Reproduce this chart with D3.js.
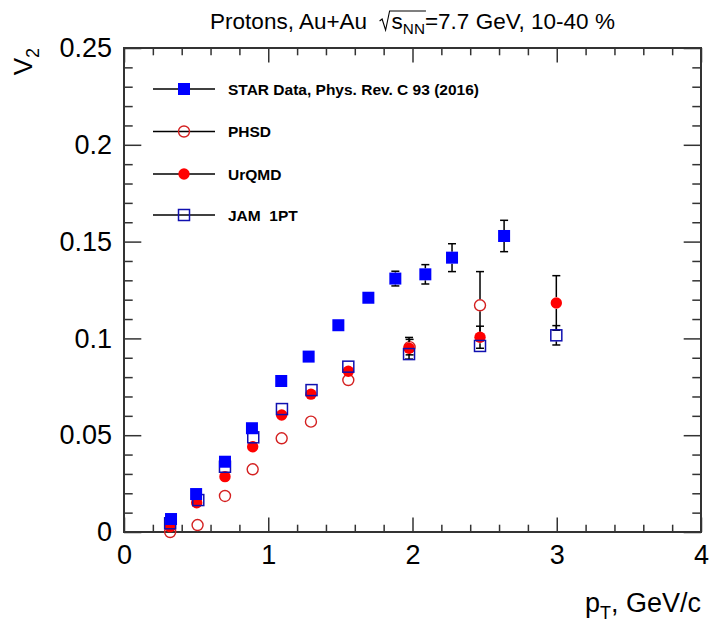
<!DOCTYPE html>
<html>
<head>
<meta charset="utf-8">
<script src="https://cdn.jsdelivr.net/npm/d3@7"></script>
<style>
  html, body { margin: 0; padding: 0; background: #fff; }
  svg { display: block; font-family: "Liberation Sans", Arial, Helvetica, sans-serif; }
  svg text { white-space: pre; }
</style>
</head>
<body>
<svg id="chart" width="712" height="628"></svg>
<script>
// ---- data: proton v2 vs pT, Au+Au 7.7 GeV, 10-40% ----
const starPt   = [0.326, 0.50, 0.70, 0.887, 1.09, 1.28, 1.486, 1.694, 1.881, 2.089, 2.274, 2.635];
const starV2   = [0.0067, 0.0196, 0.0363, 0.0536, 0.078, 0.0906, 0.1068, 0.121, 0.1309, 0.1331, 0.1417, 0.1529];
const starErr  = [0.001, 0.001, 0.001, 0.0015, 0.0015, 0.002, 0.002, 0.0025, 0.0038, 0.005, 0.0072, 0.0081];

const phsdPt   = [0.32, 0.51, 0.70, 0.892, 1.093, 1.296, 1.555, 1.98, 2.468];
const phsdV2   = [0.0, 0.0036, 0.0186, 0.0324, 0.0484, 0.057, 0.0785, 0.0955, 0.1171];
const phsdErr  = [0.0005, 0.0005, 0.0005, 0.0005, 0.0008, 0.001, 0.0015, 0.004, 0.0174];

const urqmdPt  = [0.32, 0.504, 0.70, 0.892, 1.093, 1.296, 1.555, 1.976, 2.468, 2.997];
const urqmdV2  = [0.0027, 0.0151, 0.0286, 0.044, 0.0604, 0.0712, 0.083, 0.0949, 0.1006, 0.1183];
const urqmdErr = [0.0005, 0.0005, 0.0008, 0.001, 0.001, 0.0012, 0.0015, 0.0056, 0.0057, 0.0141];

const jamPt    = [0.32, 0.515, 0.70, 0.896, 1.095, 1.30, 1.555, 1.976, 2.468, 2.997];
const jamV2    = [0.0045, 0.0165, 0.0337, 0.0489, 0.0635, 0.0733, 0.0854, 0.0919, 0.0961, 0.1016];
const jamErr   = [0.0005, 0.0005, 0.0008, 0.001, 0.001, 0.0012, 0.0015, 0.002, 0.002, 0.005];

const xTicks = [0, 1, 2, 3, 4];
const yTicks = [0, 0.05, 0.1, 0.15, 0.2, 0.25];
const yTickLabels = ["0", "0.05", "0.1", "0.15", "0.2", "0.25"];

const legendLabels = ["STAR Data, Phys. Rev. C 93 (2016)", "PHSD", "UrQMD", "JAM  1PT"];

// ---- layout ----
const W = 712, H = 628;
const margin = { left: 124, right: 11, top: 48, bottom: 96 };
const plotW = W - margin.left - margin.right;
const plotH = H - margin.top - margin.bottom;

const svg = d3.select("#chart");
const g = svg.append("g").attr("transform", `translate(${margin.left},${margin.top})`);

const x = d3.scaleLinear().domain([0, 4]).range([0, plotW]);
const y = d3.scaleLinear().domain([0, 0.25]).range([plotH, 0]);

const axisColor = "#333";
const majX = 14.5, minX = 7.3, majY = 17.3, minY = 8.7;
const xMinor = d3.range(0, 4.0001, 0.2).map(v => +v.toFixed(2)).filter(v => !xTicks.includes(v));
const yMinor = d3.range(0, 0.25001, 0.01).map(v => +v.toFixed(3)).filter(v => !yTicks.some(t => Math.abs(t - v) < 1e-9));

function styleAxis(sel) {
  sel.select(".domain").remove();
  sel.selectAll("line").attr("stroke", axisColor).attr("stroke-width", 1.5);
}

// bottom axis (ticks inward, with labels)
g.append("g").attr("transform", `translate(0,${plotH})`)
  .call(d3.axisBottom(x).tickValues(xTicks).tickSize(-majX).tickPadding(13).tickFormat(d3.format("d")))
  .call(styleAxis)
  .call(s => s.selectAll("text").attr("font-size", 27).attr("fill", "#000"));
g.append("g").attr("transform", `translate(0,${plotH})`)
  .call(d3.axisBottom(x).tickValues(xMinor).tickSize(-minX).tickFormat(""))
  .call(styleAxis);
// top axis mirror
g.append("g")
  .call(d3.axisTop(x).tickValues(xTicks).tickSize(-majX).tickFormat(""))
  .call(styleAxis);
g.append("g")
  .call(d3.axisTop(x).tickValues(xMinor).tickSize(-minX).tickFormat(""))
  .call(styleAxis);
// left axis with labels
g.append("g")
  .call(d3.axisLeft(y).tickValues(yTicks).tickSize(-majY).tickPadding(12)
    .tickFormat((d, i) => yTickLabels[i]))
  .call(styleAxis)
  .call(s => s.selectAll("text").attr("font-size", 27).attr("fill", "#000"));
g.append("g")
  .call(d3.axisLeft(y).tickValues(yMinor).tickSize(-minY).tickFormat(""))
  .call(styleAxis);
// right axis mirror
g.append("g").attr("transform", `translate(${plotW},0)`)
  .call(d3.axisRight(y).tickValues(yTicks).tickSize(-majY).tickFormat(""))
  .call(styleAxis);
g.append("g").attr("transform", `translate(${plotW},0)`)
  .call(d3.axisRight(y).tickValues(yMinor).tickSize(-minY).tickFormat(""))
  .call(styleAxis);

// frame
g.append("rect").attr("x", 0).attr("y", 0).attr("width", plotW).attr("height", plotH)
  .attr("fill", "none").attr("stroke", axisColor).attr("stroke-width", 2);

// ---- markers ----
const R = 6;
function drawMarker(sel, type) {
  if (type === "sqFill") {
    sel.append("rect").attr("x", -R).attr("y", -R).attr("width", 2 * R).attr("height", 2 * R)
      .attr("fill", "#0000ff");
  } else if (type === "sqOpen") {
    sel.append("rect").attr("x", -R + 0.5).attr("y", -R + 0.5).attr("width", 2 * R - 1).attr("height", 2 * R - 1)
      .attr("fill", "none").attr("stroke", "#1010b0").attr("stroke-width", 1.5);
  } else if (type === "cirOpen") {
    sel.append("circle").attr("r", R - 0.5).attr("fill", "none")
      .attr("stroke", "#d42020").attr("stroke-width", 1.4);
  } else if (type === "cirFill") {
    sel.append("circle").attr("r", R - 0.3).attr("fill", "#ff0000");
  }
}

function drawSeries(pts, vals, errs, type) {
  const grp = g.append("g");
  pts.forEach((p, i) => {
    const cx = x(p), cy = y(vals[i]);
    const hi = y(vals[i] + errs[i]), lo = y(vals[i] - errs[i]);
    const eg = grp.append("g").attr("stroke", "#000").attr("stroke-width", 1.5);
    // error bar segments outside the marker, with caps
    [[cy - R, hi], [cy + R, lo]].forEach(([from, to]) => {
      if (Math.abs(to - cy) > R) {
        eg.append("line").attr("x1", cx).attr("x2", cx).attr("y1", from).attr("y2", to);
        eg.append("line").attr("x1", cx - 4).attr("x2", cx + 4).attr("y1", to).attr("y2", to);
      }
    });
    drawMarker(grp.append("g").attr("transform", `translate(${cx},${cy})`), type);
  });
}

drawSeries(phsdPt, phsdV2, phsdErr, "cirOpen");
drawSeries(urqmdPt, urqmdV2, urqmdErr, "cirFill");
drawSeries(jamPt, jamV2, jamErr, "sqOpen");
drawSeries(starPt, starV2, starErr, "sqFill");

// ---- legend ----
const legendTypes = ["sqFill", "cirOpen", "cirFill", "sqOpen"];
const legendY = [89, 131.5, 174, 215];
legendLabels.forEach((lab, i) => {
  const ly = legendY[i];
  svg.append("line").attr("x1", 153).attr("x2", 215).attr("y1", ly).attr("y2", ly)
    .attr("stroke", "#000").attr("stroke-width", 1.5);
  drawMarker(svg.append("g").attr("transform", `translate(184,${ly})`), legendTypes[i]);
  svg.append("text").attr("x", 228).attr("y", ly).attr("dy", "0.36em")
    .attr("font-size", 15.5).attr("font-weight", "bold").attr("fill", "#000").text(lab);
});

// ---- title with sqrt(s_NN) ----
(function () {
  const fs = 22.5, base = 29;
  const tg = svg.append("g");
  let cx = 0;
  function put(txt, size, dy) {
    const t = tg.append("text").attr("x", cx).attr("y", base + (dy || 0))
      .attr("font-size", size).attr("fill", "#000").text(txt);
    const w = t.node().getComputedTextLength();
    const x0 = cx; cx += w; return [x0, cx];
  }
  put("Protons, Au+Au  ", fs);
  const radX = cx;
  cx += 12;
  put("s", fs);
  const [, nnEnd] = put("NN", fs * 0.68, 5);
  put("=7.7 GeV, 10-40 %", fs);
  tg.append("path")
    .attr("d", `M${radX},${base - 8} L${radX + 2.5},${base - 10} L${radX + 6},${base + 1} L${radX + 10},${base - 18} L${nnEnd + 1},${base - 18}`)
    .attr("fill", "none").attr("stroke", "#000").attr("stroke-width", 1.1);
  const total = cx;
  const centre = margin.left + plotW / 2;
  tg.attr("transform", `translate(${centre - total / 2},0)`);
})();

// ---- axis titles ----
svg.append("text")
  .attr("transform", `translate(32,${margin.top}) rotate(-90)`)
  .attr("text-anchor", "end").attr("font-size", 26).attr("fill", "#000")
  .call(t => {
    t.append("tspan").text("V");
    t.append("tspan").attr("font-size", 18).attr("dy", 7).text("2");
  });

svg.append("text")
  .attr("x", margin.left + plotW).attr("y", 612)
  .attr("text-anchor", "end").attr("font-size", 27).attr("fill", "#000")
  .call(t => {
    t.append("tspan").text("p");
    t.append("tspan").attr("font-size", 18).attr("dy", 7).text("T");
    t.append("tspan").attr("dy", -7).text(", GeV/c");
  });
</script>
</body>
</html>
